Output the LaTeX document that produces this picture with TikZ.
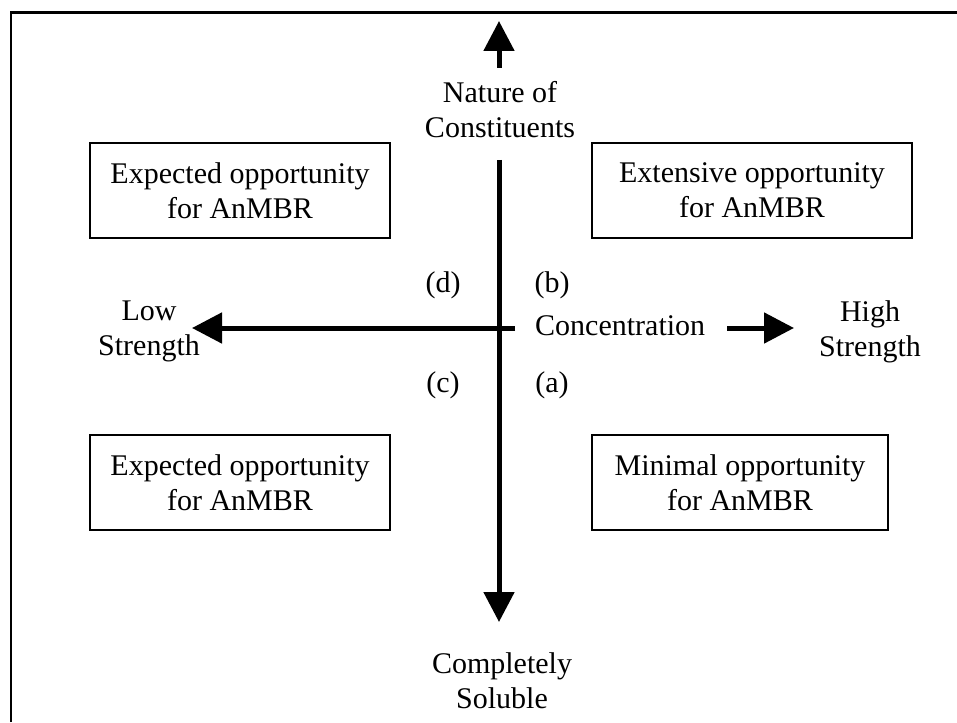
\documentclass[tikz,border=0pt]{standalone}
\usepackage{fontspec}
\setmainfont{Liberation Serif}
\usetikzlibrary{arrows.meta}
\begin{document}
\begin{tikzpicture}[x=1pt,y=-1pt,
  txt/.style={inner sep=0pt,align=center,font=\fontsize{30}{35}\selectfont},
  quadbox/.style={txt,draw,line width=2pt,minimum height=95pt},
  axisarrow/.style={line width=5pt,-{Triangle[length=30pt,width=30pt]}}]
\useasboundingbox (0,0) rectangle (957,722);
% frame
\draw[line width=2.5pt] (11,722) coordinate (fb) -- (11,12.5) coordinate (fc) -- (957,12.5) coordinate (fr);
% boxes
\node[quadbox,minimum width=300pt] (tl) at (240,190.5) {Expected opportunity\\for AnMBR};
\node[quadbox,minimum width=320pt] (tr) at (752,190.5) {Extensive opportunity\\for AnMBR};
\node[quadbox,minimum width=300pt] (bl) at (240,482.5) {Expected opportunity\\for AnMBR};
\node[quadbox,minimum width=296pt] (br) at (740,482.5) {Minimal opportunity\\for AnMBR};
% axis labels (anchor=base is the baseline of the last line)
\node[txt,anchor=base] (top) at (500,138) {Nature of\\Constituents};
\node[txt,anchor=base] (bot) at (502,708) {Completely\\Soluble};
\node[txt,anchor=base] (low) at (149,355) {Low\\Strength};
\node[txt,anchor=base] (high) at (870,356) {High\\Strength};
\node[txt,anchor=base west] (conc) at (535,335) {Concentration};
\node[txt,anchor=base] (qd) at (443,292) {(d)};
\node[txt,anchor=base] (qb) at (552,292) {(b)};
\node[txt,anchor=base] (qc) at (443,392) {(c)};
\node[txt,anchor=base] (qa) at (552,392) {(a)};
% axes
\coordinate (vtop0) at (499,68);
\coordinate (vtop1) at (499,21);
\coordinate (vbot0) at (499,160);
\coordinate (vbot1) at (499,622);
\coordinate (hl0) at (515,328);
\coordinate (hl1) at (192,328);
\coordinate (hr0) at (727,328);
\coordinate (hr1) at (794,328);
\draw[axisarrow] (vtop0) -- (vtop1);
\draw[axisarrow] (vbot0) -- (vbot1);
\draw[axisarrow] (hl0) -- (hl1);
\draw[axisarrow] (hr0) -- (hr1);
\end{tikzpicture}
\end{document}
